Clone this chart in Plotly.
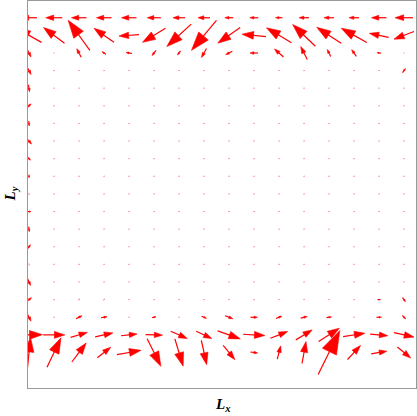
import numpy as np
import plotly.graph_objects as go

# malla: columnas a lo largo de Lx, filas a lo largo de Ly (fila 0 = abajo)
lx = np.arange(16)
ly = np.arange(20)

# componentes del campo (leidas en px, v positiva hacia arriba)
# filas listadas de ARRIBA hacia ABAJO
u_rows = [
    [-16, -16.5, -15, -15, -15, -13.5, -12, -12, -8.5, -8.5, -7, -10, -10, -10, -15, -18],
    [-25, -21, -21.7, -20, -20, -23, -24.4, -25, -22.4, -24, -25, -22.7, -24.4, -25.6, -19.3, -20],
    [4, 1, -4.4, -4, -6, -4, -3, -5, -6.7, -8, -9, -6.6, -3.4, -4.6, -4, 1],
    [4, 1.5, 1.5, 1.5, 1.5, 1.5, 1.5, 1.5, 1.5, 1.5, 1.5, 1.5, 1.5, 1.5, 1.5, 3],
    [1, 1.5, 1.5, 1.5, 1.5, 1.5, 1.5, 1.5, 1.5, 1.5, 1.5, 1.5, 1.5, 1.5, 1.5, 1.5],
    [4, 1.5, 1.5, 1.5, 1.5, 1.5, 1.5, 1.5, 1.5, 1.5, 1.5, 1.5, 1.5, 1.5, 1.5, 1.5],
    [0.5, 1.5, 1.5, 1.5, 1.5, 1.5, 1.5, 1.5, 1.5, 1.5, 1.5, 1.5, 1.5, 1.5, 1.5, 1.5],
    [5, 1.5, 1.5, 1.5, 1.5, 1.5, 1.5, 1.5, 1.5, 1.5, 1.5, 1.5, 1.5, 1.5, 1.5, 1.5],
    [3, 1.5, 1.5, 1.5, 1.5, 1.5, 1.5, 1.5, 1.5, 1.5, 1.5, 1.5, 1.5, 1.5, 1.5, 1.5],
    [0, 1.5, 1.5, 1.5, 1.5, 1.5, 1.5, 1.5, 1.5, 1.5, 1.5, 1.5, 1.5, 1.5, 1.5, 1.5],
    [0.5, 1.5, 1.5, 1.5, 1.5, 1.5, 1.5, 1.5, 1.5, 1.5, 1.5, 1.5, 1.5, 1.5, 1.5, 1.5],
    [4, 1.5, 1.5, 1.5, 1.5, 1.5, 1.5, 1.5, 1.5, 1.5, 1.5, 1.5, 1.5, 1.5, 1.5, 1.5],
    [0.5, 1.5, 1.5, 1.5, 1.5, 1.5, 1.5, 1.5, 1.5, 1.5, 1.5, 1.5, 1.5, 1.5, 1.5, 1.5],
    [3, 1.5, 1.5, 1.5, 1.5, 1.5, 1.5, 1.5, 1.5, 1.5, 1.5, 1.5, 1.5, 1.5, 1.5, 1.5],
    [0.5, 1.5, 1.5, 1.5, 1.5, 1.5, 1.5, 1.5, 1.5, 1.5, 1.5, 1.5, 1.5, 1.5, 1.5, 1.5],
    [3, 1.5, 1.5, 1.5, 1.5, 1.5, 1.5, 1.5, 1.5, 1.5, 1.5, 1.5, 1.5, 1.5, 1.5, 1.5],
    [5, 1.5, 2, 2, 1.5, 1.5, 1.5, 1.5, 1.5, 1.5, 1.5, 1.5, 1.5, 1.5, 3, 3],
    [4, 1.5, 6, 6, 1.5, 4, 1.5, 5, 7.7, 7, 5.7, 6.6, 5, 1.5, 5, 3.3],
    [27, 21.7, 16.7, 17.7, 16, 17, 16.6, 15.7, 22.7, 21.7, 17.3, 16.3, 20.7, 21.7, 17.6, 20],
    [3, 14, 14.3, 13.4, 24, 13.7, 8.3, 5.3, 11.7, 7.3, 3.4, 4, 21.7, 13, 15.6, 13.4],
]
v_rows = [
    [0, 0, 0, 0, 0, 0, 0, 0, 0, 0, 0, 0, 0, 0, 0, 0],
    [14, 15.6, 30, 14, -1.4, -14, -22.4, -30, -15.6, 2.4, 15, 21.7, 16, 14.3, 4, -7.6],
    [-8, 0, 8.7, 2.6, 1, -5, -4, -9, -3.3, 0, 8, 13, 7, 6.7, 0.5, 0],
    [-8, 0, 0, 0, 0, 0, 0, 0, 0, 0, 0, 0, 0, 0, 0, 4],
    [-7, 0, 0, 0, 0, 0, 0, 0, 0, 0, 0, 0, 0, 0, 0, 0],
    [4, 0, 0, 0, 0, 0, 0, 0, 0, 0, 0, 0, 0, 0, 0, 0],
    [-5, 0, 0, 0, 0, 0, 0, 0, 0, 0, 0, 0, 0, 0, 0, 0],
    [-6, 0, 0, 0, 0, 0, 0, 0, 0, 0, 0, 0, 0, 0, 0, 0],
    [-3, 0, 0, 0, 0, 0, 0, 0, 0, 0, 0, 0, 0, 0, 0, 0],
    [-3, 0, 0, 0, 0, 0, 0, 0, 0, 0, 0, 0, 0, 0, 0, 0],
    [-2, 0, 0, 0, 0, 0, 0, 0, 0, 0, 0, 0, 0, 0, 0, 0],
    [0, 0, 0, 0, 0, 0, 0, 0, 0, 0, 0, 0, 0, 0, 0, 0],
    [-5, 0, 0, 0, 0, 0, 0, 0, 0, 0, 0, 0, 0, 0, 0, 0],
    [4, 0, 0, 0, 0, 0, 0, 0, 0, 0, 0, 0, 0, 0, 0, 0],
    [-2, 0, 0, 0, 0, 0, 0, 0, 0, 0, 0, 0, 0, 0, 0, 0],
    [-7, 0, 0, 0, 0, 0, 0, 0, 0, 0, 0, 0, 0, 0, 0, 0],
    [4, 0, 1, 1, 0, 0, 0, 0, 0, 0, 0, 0, 0, 0, 0, -4],
    [-8, 0, 3, 1, 0, 1, 0, -2, -3, 0, 2.3, 1.6, 0.7, 0, 0, -3.6],
    [0.5, 0, 5, 4, 1.7, -0.5, -7.3, -7.3, -8, -1.3, 6.7, 10, 13.3, 3.4, -1.7, -4.4],
    [30, 29.4, 19, 10.6, 4.3, -27.7, -27.3, -24.3, -14.3, -1, 13.3, 22, 44, 14, 2.6, -11],
]

U = np.array(u_rows[::-1], dtype=float)
V = np.array(v_rows[::-1], dtype=float)

W, H = 417, 416
margin = dict(l=28, r=1, t=1, b=28)
x_range = [-0.04, 15.48]
y_range = [-2.015, 19.95]
px_x = (W - margin["l"] - margin["r"]) / (x_range[1] - x_range[0])
px_y = (H - margin["t"] - margin["b"]) / (y_range[1] - y_range[0])

HEAD_LEN = 0.48
HEAD_HALF = 0.16
SMALL = 2.5  # flechas mas cortas que esto se ven como puntitos rosados


def arrow_paths(small):
    sx, sy, hx, hy = [], [], [], []
    for j, yc in enumerate(ly):
        for i, xc in enumerate(lx):
            uu, vv = U[j, i], V[j, i]
            L = np.hypot(uu, vv)
            if L == 0 or (L < SMALL) != small:
                continue
            e = np.array([uu, vv]) / L
            tail = -0.5 * L * e
            tip = 0.5 * L * e
            base = tip - HEAD_LEN * L * e
            perp = HEAD_HALF * L * np.array([-e[1], e[0]])
            for p in (tail, base + 0.1 * L * e):
                sx.append(xc + p[0] / px_x)
                sy.append(yc + p[1] / px_y)
            sx.append(None)
            sy.append(None)
            for p in (tip, base + perp, base - perp, tip):
                hx.append(xc + p[0] / px_x)
                hy.append(yc + p[1] / px_y)
            hx.append(None)
            hy.append(None)
    return sx, sy, hx, hy


fig = go.Figure()
for small, color, width in [(False, "#ff0000", 1.2), (True, "rgba(255,0,0,0.45)", 1.0)]:
    sx, sy, hx, hy = arrow_paths(small)
    fig.add_trace(go.Scatter(
        x=sx, y=sy, mode="lines",
        line=dict(color=color, width=width),
        hoverinfo="skip", showlegend=False,
    ))
    fig.add_trace(go.Scatter(
        x=hx, y=hy, mode="lines", fill="toself",
        fillcolor=color, line=dict(color=color, width=0.6),
        hoverinfo="skip", showlegend=False,
    ))

axis_style = dict(
    showgrid=False, zeroline=False, showticklabels=False, ticks="",
    showline=True, mirror=True, linecolor="#999999", linewidth=1.2,
)
fig.update_xaxes(range=x_range, **axis_style)
fig.update_yaxes(range=y_range, **axis_style)

title_font = dict(family="Liberation Serif", size=15, color="black")
fig.add_annotation(
    text="<b><i>L<sub>x</sub></i></b>", xref="paper", yref="paper",
    x=0.5, y=0, yanchor="middle", yshift=-17, showarrow=False, font=title_font,
)
fig.add_annotation(
    text="<b><i>L<sub>y</sub></i></b>", xref="paper", yref="paper",
    x=0, y=0.5, xanchor="center", xshift=-18, textangle=-90,
    showarrow=False, font=title_font,
)

fig.update_layout(
    width=W, height=H, margin=margin,
    plot_bgcolor="white", paper_bgcolor="white",
)

fig.write_html(
    "out.html",
    config={"displayModeBar": False},
    post_script="document.body.style.margin='0';",
)
